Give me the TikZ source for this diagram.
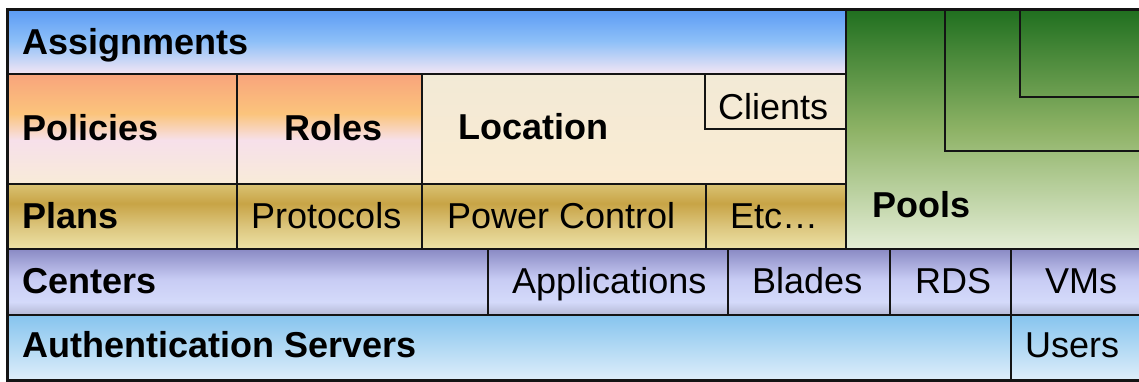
\documentclass[tikz,border=0pt]{standalone}
\usepackage{fontspec}
\setmainfont{Liberation Sans}
\definecolor{asT}{HTML}{5A9AF4}
\definecolor{asM}{HTML}{8EC0F8}
\definecolor{asB}{HTML}{F4E6F4}
\definecolor{poT}{HTML}{F8A47C}
\definecolor{poO}{HTML}{FBC47C}
\definecolor{poP}{HTML}{F7E0EA}
\definecolor{poB}{HTML}{F8EBD8}
\definecolor{loT}{HTML}{F2EAD6}
\definecolor{loB}{HTML}{FBEBD2}
\definecolor{plT}{HTML}{D9C273}
\definecolor{plD}{HTML}{C8A446}
\definecolor{plM}{HTML}{DCC67E}
\definecolor{plB}{HTML}{EDE2A6}
\definecolor{ceT}{HTML}{8A8AC4}
\definecolor{ceM}{HTML}{C8CCF4}
\definecolor{ceL}{HTML}{D4DAFA}
\definecolor{ceB}{HTML}{B4B8D4}
\definecolor{auT}{HTML}{86C4EE}
\definecolor{auB}{HTML}{DEEEFA}
\definecolor{pgT}{HTML}{1F6F1F}
\definecolor{pgM}{HTML}{8DB265}
\definecolor{pgB}{HTML}{E4EDD6}
\definecolor{lineC}{HTML}{141414}
\pgfdeclareverticalshading{assignshade}{100bp}{color(0bp)=(asB); color(25bp)=(asB); color(50bp)=(asM); color(75bp)=(asT); color(100bp)=(asT)}
\pgfdeclareverticalshading{policyshade}{100bp}{color(0bp)=(poB); color(25bp)=(poB); color(45bp)=(poP); color(57bp)=(poO); color(75bp)=(poT); color(100bp)=(poT)}
\pgfdeclareverticalshading{locshade}{100bp}{color(0bp)=(loB); color(25bp)=(loB); color(75bp)=(loT); color(100bp)=(loT)}
\pgfdeclareverticalshading{planshade}{100bp}{color(0bp)=(plB); color(25bp)=(plB); color(42bp)=(plM); color(60bp)=(plD); color(75bp)=(plT); color(100bp)=(plT)}
\pgfdeclareverticalshading{centshade}{100bp}{color(0bp)=(ceB); color(25bp)=(ceB); color(35bp)=(ceL); color(52bp)=(ceM); color(75bp)=(ceT); color(100bp)=(ceT)}
\pgfdeclareverticalshading{authshade}{100bp}{color(0bp)=(auB); color(25bp)=(auB); color(75bp)=(auT); color(100bp)=(auT)}
\pgfdeclareverticalshading{poolshade}{100bp}{color(0bp)=(pgB); color(25bp)=(pgB); color(50bp)=(pgM); color(75bp)=(pgT); color(100bp)=(pgT)}
\tikzset{
  cellline/.style={draw=lineC, line width=1.8pt},
  boldlbl/.style={anchor=base west, inner sep=0pt, font=\fontsize{36}{40}\selectfont\bfseries},
  plainlbl/.style={anchor=base west, inner sep=0pt, font=\fontsize{36}{40}\selectfont},
}
\begin{document}
\begin{tikzpicture}[x=1pt,y=-1pt]
\useasboundingbox (0,0) rectangle (1139,381);
% backgrounds
\path[shading=assignshade] (7,9) rectangle (846,74);
\path[shading=policyshade] (7,74) rectangle (422,184);
\path[shading=locshade] (422,74) rectangle (846,184);
\path[shading=planshade] (7,184) rectangle (846,249);
\path[shading=poolshade] (846,9) rectangle (1145,249);
\path[shading=centshade] (7,249) rectangle (1145,315);
\path[shading=authshade] (7,315) rectangle (1145,380);
% inner lines
\draw[cellline] (7,74) -- (846,74);
\draw[cellline] (7,184) -- (846,184);
\draw[cellline] (7,249) -- (1145,249);
\draw[cellline] (7,315) -- (1145,315);
\draw[cellline] (846,9) -- (846,249);
\draw[cellline] (237,74) -- (237,249);
\draw[cellline] (422,74) -- (422,249);
\draw[cellline] (705,74) -- (705,129) -- (846,129);
\draw[cellline] (706,184) -- (706,249);
\draw[cellline] (488,249) -- (488,315);
\draw[cellline] (728,249) -- (728,315);
\draw[cellline] (890,249) -- (890,315);
\draw[cellline] (1011,249) -- (1011,380);
\draw[cellline] (945,9) -- (945,151) -- (1145,151);
\draw[cellline] (1020,9) -- (1020,97) -- (1145,97);
% outer frame
\draw[draw=lineC, line width=3pt] (1145,9) -- (7,9) -- (7,380) -- (1145,380);
% labels
\node[boldlbl] (assign) at (22,54) {Assignments};
\node[boldlbl] (policies) at (22,140) {Policies};
\node[boldlbl] (roles) at (284,140) {Roles};
\node[boldlbl] (location) at (458,139) {Location};
\node[plainlbl] (clients) at (718,119) {Clients};
\node[boldlbl] (pools) at (872,217) {Pools};
\node[boldlbl] (plans) at (22,228) {Plans};
\node[plainlbl] (protocols) at (251,228) {Protocols};
\node[plainlbl] (power) at (447,228) {Power Control};
\node[plainlbl] (etc) at (730,228) {Etc…};
\node[boldlbl] (centers) at (22,293) {Centers};
\node[plainlbl] (apps) at (512,293) {Applications};
\node[plainlbl] (blades) at (752,293) {Blades};
\node[plainlbl] (rds) at (915,293) {RDS};
\node[plainlbl] (vms) at (1045,293) {VMs};
\node[boldlbl] (auth) at (22,357) {Authentication Servers};
\node[plainlbl] (users) at (1025,357) {Users};
\end{tikzpicture}
\end{document}
